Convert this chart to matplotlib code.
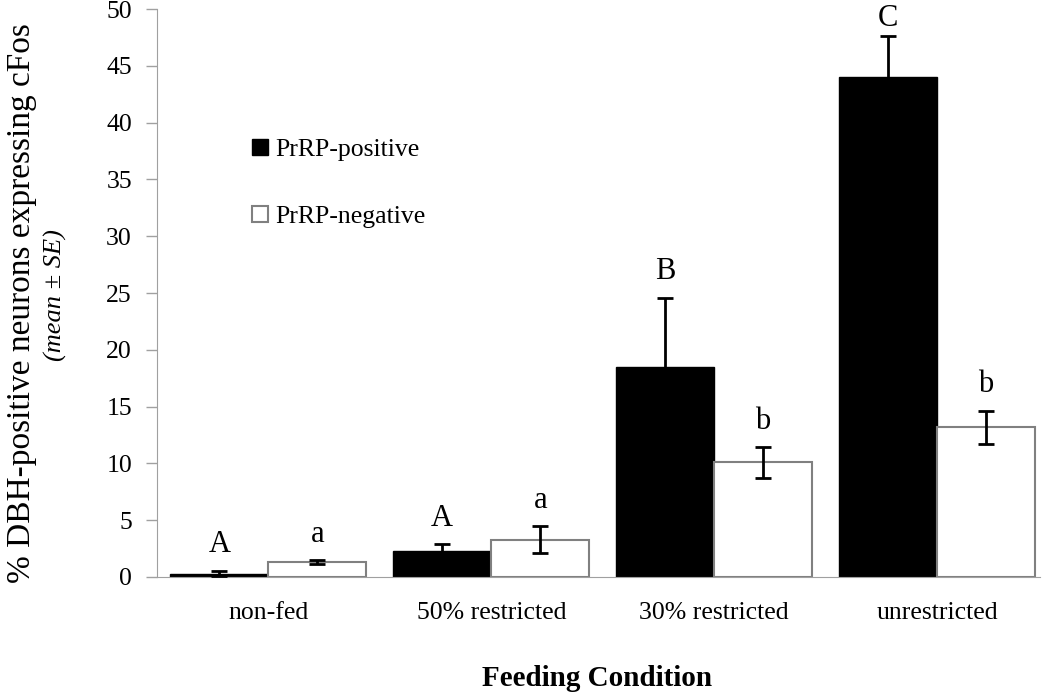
import matplotlib.pyplot as plt
import numpy as np

conditions = ['non-fed', '50% restricted', '30% restricted', 'unrestricted']
pos_mean = [0.3, 2.3, 18.5, 44.0]
pos_se = [0.25, 0.6, 6.1, 3.6]
neg_mean = [1.3, 3.3, 10.1, 13.2]
neg_se = [0.2, 1.2, 1.35, 1.45]
pos_letters = ['A', 'A', 'B', 'C']
neg_letters = ['a', 'a', 'b', 'b']

plt.rcParams['font.family'] = ['Liberation Serif', 'DejaVu Serif']

fig = plt.figure(figsize=(10.5, 6.94), dpi=100)
ax = fig.add_axes([0.1495, 0.1686, 0.8405, 0.8184])

x = np.arange(len(conditions))
w = 0.44
gray = '#a0a0a0'

b1 = ax.bar(x - w / 2, pos_mean, w, color='black', edgecolor='black',
            linewidth=1, label='PrRP-positive', zorder=2)
b2 = ax.bar(x + w / 2, neg_mean, w, color='white', edgecolor='#808080',
            linewidth=1.5, label='PrRP-negative', zorder=2)
ax.errorbar(x - w / 2, pos_mean, yerr=pos_se, fmt='none', ecolor='black',
            elinewidth=2, capsize=6, capthick=2, zorder=3)
ax.errorbar(x + w / 2, neg_mean, yerr=neg_se, fmt='none', ecolor='black',
            elinewidth=2, capsize=6, capthick=2, zorder=3)

# significance letters above the error bars (kept below the top edge)
for i in range(len(conditions)):
    ax.text(x[i] - w / 2, min(pos_mean[i] + pos_se[i] + 1.0, 47.9),
            pos_letters[i], ha='center', va='bottom', fontsize=22,
            clip_on=False)
    ax.text(x[i] + w / 2, min(neg_mean[i] + neg_se[i] + 1.0, 47.9),
            neg_letters[i], ha='center', va='bottom', fontsize=22)

ax.set_xlim(-0.5, 3.46)
ax.set_ylim(0, 50)
ax.set_yticks(np.arange(0, 51, 5))
ax.set_xticks(x)
ax.set_xticklabels(conditions)
ax.tick_params(axis='x', length=0, pad=18, labelsize=18.5)
ax.tick_params(axis='y', direction='out', length=8, color=gray, width=1,
               pad=10, labelsize=18.5)
for s in ['top', 'right']:
    ax.spines[s].set_visible(False)
ax.spines['left'].set_color(gray)
ax.spines['bottom'].set_color(gray)

fig.text(22 / 1050, 1 - 303 / 694, '% DBH-positive neurons expressing cFos',
         rotation=90, ha='center', va='center', fontsize=24)
fig.text(55 / 1050, 1 - 295 / 694, '(mean ± SE)', rotation=90,
         ha='center', va='center', fontsize=19, style='italic')
fig.text(597 / 1050, 1 - 678 / 694, 'Feeding Condition', ha='center',
         va='center', fontsize=21, fontweight='bold')

ax.legend(handles=[b1, b2], loc='upper left', bbox_to_anchor=(0.108, 0.772),
          frameon=False, fontsize=18.5, handlelength=0.6, handleheight=0.6,
          handletextpad=0.3, labelspacing=1.75, borderpad=0, borderaxespad=0)

fig.savefig('out.png', dpi=100)
